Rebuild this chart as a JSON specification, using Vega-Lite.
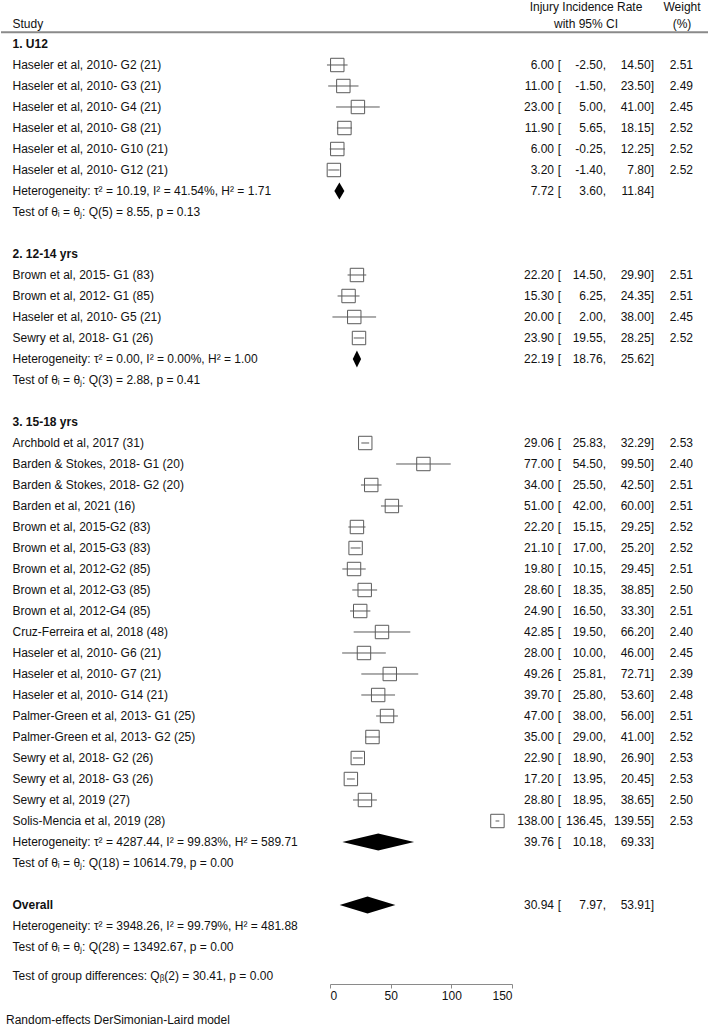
{
  "$schema": "https://vega.github.io/schema/vega-lite/v6.json",
  "padding": 0,
  "spacing": 0,
  "bounds": "flush",
  "config": {
    "view": {"stroke": null},
    "locale": {"number": {"decimal": ".", "thousands": ",", "grouping": [3], "currency": ["$", ""], "minus": "-"}},
    "text": {"font": "Liberation Sans", "fontSize": 12, "color": "#111111"},
    "axis": {"labelFont": "Liberation Sans", "labelFontSize": 12, "labelColor": "#111111", "domainColor": "#8a8a8a", "tickColor": "#8a8a8a", "tickSize": 4, "labelPadding": 2, "grid": false}
  },
  "datasets": {
    "rows": [
      {"row": -1.748, "kind": "hdr", "ci": "Injury Incidence Rate", "w": "Weight"},
      {"row": -0.952, "kind": "hdr", "ci": "with 95% CI", "w": "(%)", "label": "Study"},
      {"row": 0, "kind": "group", "label": "1. U12"},
      {"row": 1, "kind": "study", "label": "Haseler et al, 2010- G2 (21)", "est": 6.00, "lo": -2.50, "hi": 14.50, "wt": 2.51},
      {"row": 2, "kind": "study", "label": "Haseler et al, 2010- G3 (21)", "est": 11.00, "lo": -1.50, "hi": 23.50, "wt": 2.49},
      {"row": 3, "kind": "study", "label": "Haseler et al, 2010- G4 (21)", "est": 23.00, "lo": 5.00, "hi": 41.00, "wt": 2.45},
      {"row": 4, "kind": "study", "label": "Haseler et al, 2010- G8 (21)", "est": 11.90, "lo": 5.65, "hi": 18.15, "wt": 2.52},
      {"row": 5, "kind": "study", "label": "Haseler et al, 2010- G10 (21)", "est": 6.00, "lo": -0.25, "hi": 12.25, "wt": 2.52},
      {"row": 6, "kind": "study", "label": "Haseler et al, 2010- G12 (21)", "est": 3.20, "lo": -1.40, "hi": 7.80, "wt": 2.52},
      {"row": 7, "kind": "het", "label": "Heterogeneity: τ² = 10.19, I² = 41.54%, H² = 1.71", "est": 7.72, "lo": 3.60, "hi": 11.84},
      {"row": 8, "kind": "test", "label": "Test of θᵢ = θⱼ: Q(5) = 8.55, p = 0.13"},
      {"row": 10, "kind": "group", "label": "2. 12-14 yrs"},
      {"row": 11, "kind": "study", "label": "Brown et al, 2015- G1 (83)", "est": 22.20, "lo": 14.50, "hi": 29.90, "wt": 2.51},
      {"row": 12, "kind": "study", "label": "Brown et al, 2012- G1 (85)", "est": 15.30, "lo": 6.25, "hi": 24.35, "wt": 2.51},
      {"row": 13, "kind": "study", "label": "Haseler et al, 2010- G5 (21)", "est": 20.00, "lo": 2.00, "hi": 38.00, "wt": 2.45},
      {"row": 14, "kind": "study", "label": "Sewry et al, 2018- G1 (26)", "est": 23.90, "lo": 19.55, "hi": 28.25, "wt": 2.52},
      {"row": 15, "kind": "het", "label": "Heterogeneity: τ² = 0.00, I² = 0.00%, H² = 1.00", "est": 22.19, "lo": 18.76, "hi": 25.62},
      {"row": 16, "kind": "test", "label": "Test of θᵢ = θⱼ: Q(3) = 2.88, p = 0.41"},
      {"row": 18, "kind": "group", "label": "3. 15-18 yrs"},
      {"row": 19, "kind": "study", "label": "Archbold et al, 2017 (31)", "est": 29.06, "lo": 25.83, "hi": 32.29, "wt": 2.53},
      {"row": 20, "kind": "study", "label": "Barden & Stokes, 2018- G1 (20)", "est": 77.00, "lo": 54.50, "hi": 99.50, "wt": 2.40},
      {"row": 21, "kind": "study", "label": "Barden & Stokes, 2018- G2 (20)", "est": 34.00, "lo": 25.50, "hi": 42.50, "wt": 2.51},
      {"row": 22, "kind": "study", "label": "Barden et al, 2021 (16)", "est": 51.00, "lo": 42.00, "hi": 60.00, "wt": 2.51},
      {"row": 23, "kind": "study", "label": "Brown et al, 2015-G2 (83)", "est": 22.20, "lo": 15.15, "hi": 29.25, "wt": 2.52},
      {"row": 24, "kind": "study", "label": "Brown et al, 2015-G3 (83)", "est": 21.10, "lo": 17.00, "hi": 25.20, "wt": 2.52},
      {"row": 25, "kind": "study", "label": "Brown et al, 2012-G2 (85)", "est": 19.80, "lo": 10.15, "hi": 29.45, "wt": 2.51},
      {"row": 26, "kind": "study", "label": "Brown et al, 2012-G3 (85)", "est": 28.60, "lo": 18.35, "hi": 38.85, "wt": 2.50},
      {"row": 27, "kind": "study", "label": "Brown et al, 2012-G4 (85)", "est": 24.90, "lo": 16.50, "hi": 33.30, "wt": 2.51},
      {"row": 28, "kind": "study", "label": "Cruz-Ferreira et al, 2018 (48)", "est": 42.85, "lo": 19.50, "hi": 66.20, "wt": 2.40},
      {"row": 29, "kind": "study", "label": "Haseler et al, 2010- G6 (21)", "est": 28.00, "lo": 10.00, "hi": 46.00, "wt": 2.45},
      {"row": 30, "kind": "study", "label": "Haseler et al, 2010- G7 (21)", "est": 49.26, "lo": 25.81, "hi": 72.71, "wt": 2.39},
      {"row": 31, "kind": "study", "label": "Haseler et al, 2010- G14 (21)", "est": 39.70, "lo": 25.80, "hi": 53.60, "wt": 2.48},
      {"row": 32, "kind": "study", "label": "Palmer-Green et al, 2013- G1 (25)", "est": 47.00, "lo": 38.00, "hi": 56.00, "wt": 2.51},
      {"row": 33, "kind": "study", "label": "Palmer-Green et al, 2013- G2 (25)", "est": 35.00, "lo": 29.00, "hi": 41.00, "wt": 2.52},
      {"row": 34, "kind": "study", "label": "Sewry et al, 2018- G2 (26)", "est": 22.90, "lo": 18.90, "hi": 26.90, "wt": 2.53},
      {"row": 35, "kind": "study", "label": "Sewry et al, 2018- G3 (26)", "est": 17.20, "lo": 13.95, "hi": 20.45, "wt": 2.53},
      {"row": 36, "kind": "study", "label": "Sewry et al, 2019 (27)", "est": 28.80, "lo": 18.95, "hi": 38.65, "wt": 2.50},
      {"row": 37, "kind": "study", "label": "Solis-Mencia et al, 2019 (28)", "est": 138.00, "lo": 136.45, "hi": 139.55, "wt": 2.53},
      {"row": 38, "kind": "het", "label": "Heterogeneity: τ² = 4287.44, I² = 99.83%, H² = 589.71", "est": 39.76, "lo": 10.18, "hi": 69.33},
      {"row": 39, "kind": "test", "label": "Test of θᵢ = θⱼ: Q(18) = 10614.79, p = 0.00"},
      {"row": 41, "kind": "overall", "label": "Overall", "est": 30.94, "lo": 7.97, "hi": 53.91},
      {"row": 42, "kind": "het", "label": "Heterogeneity: τ² = 3948.26, I² = 99.79%, H² = 481.88"},
      {"row": 43, "kind": "test", "label": "Test of θᵢ = θⱼ: Q(28) = 13492.67, p = 0.00"},
      {"row": 44.4, "kind": "test", "label": "Test of group differences: Qᵦ(2) = 30.41, p = 0.00"},
      {"row": 46.48, "kind": "note", "label": "Random-effects DerSimonian-Laird model"}
    ]
  },
  "hconcat": [
    {
      "width": 329, "height": 984,
      "data": {"name": "rows"},
      "layer": [
        {"data": {"values": [{}]}, "mark": {"type": "rule", "color": "#8a8a8a", "strokeWidth": 2},
         "encoding": {"y": {"datum": -0.557, "type": "quantitative", "scale": {"domain": [-2.095, 44.762], "reverse": true, "nice": false, "zero": false}, "axis": null}}},
        {"transform": [{"filter": "datum.kind === 'study' || datum.kind === 'het' || datum.kind === 'test' || datum.kind === 'hdr'"}, {"filter": "isValid(datum.label)"}],
         "mark": {"type": "text", "align": "left", "baseline": "middle", "dx": 11.5},
         "encoding": {"x": {"value": 0}, "y": {"field": "row", "type": "quantitative", "scale": {"domain": [-2.095, 44.762], "reverse": true, "nice": false, "zero": false}, "axis": null}, "text": {"field": "label"}}},
        {"transform": [{"filter": "datum.kind === 'group' || datum.kind === 'overall'"}],
         "mark": {"type": "text", "align": "left", "baseline": "middle", "dx": 11.5, "fontWeight": "bold"},
         "encoding": {"x": {"value": 0}, "y": {"field": "row", "type": "quantitative", "scale": {"domain": [-2.095, 44.762], "reverse": true, "nice": false, "zero": false}, "axis": null}, "text": {"field": "label"}}},
        {"transform": [{"filter": "datum.kind === 'note'"}],
         "mark": {"type": "text", "align": "left", "baseline": "middle", "dx": 5},
         "encoding": {"x": {"value": 0}, "y": {"field": "row", "type": "quantitative", "scale": {"domain": [-2.095, 44.762], "reverse": true, "nice": false, "zero": false}, "axis": null}, "text": {"field": "label"}}}
      ]
    },
    {
      "width": 182, "height": 984,
      "data": {"name": "rows"},
      "layer": [
        {"data": {"values": [{}]}, "mark": {"type": "rule", "color": "#8a8a8a", "strokeWidth": 2},
         "encoding": {"y": {"datum": -0.557, "type": "quantitative", "scale": {"domain": [-2.095, 44.762], "reverse": true, "nice": false, "zero": false}, "axis": null}}},
        {"transform": [{"filter": "isValid(datum.wt)"}],
         "mark": {"type": "rule", "color": "#5a5a5a", "strokeWidth": 1},
         "encoding": {
           "x": {"field": "lo", "type": "quantitative", "scale": {"domain": [0, 150], "nice": false, "zero": false}, "axis": {"values": [0, 50, 100, 150], "title": null}},
           "x2": {"field": "hi"},
           "y": {"field": "row", "type": "quantitative", "scale": {"domain": [-2.095, 44.762], "reverse": true, "nice": false, "zero": false}, "axis": null}}},
        {"transform": [{"filter": "isValid(datum.wt)"}],
         "mark": {"type": "point", "shape": "square", "filled": false, "size": 180, "color": "#5a5a5a", "strokeWidth": 1, "opacity": 1},
         "encoding": {
           "x": {"field": "est", "type": "quantitative"},
           "y": {"field": "row", "type": "quantitative"}}},
        {"transform": [{"filter": "isValid(datum.est) && !isValid(datum.wt)"}, {"fold": ["lo", "est", "hi"], "as": ["vertex", "xv"]}],
         "mark": {"type": "area", "color": "#000000", "opacity": 1, "yOffset": {"expr": "datum.vertex === 'est' ? -8.5 : 0"}, "y2Offset": {"expr": "datum.vertex === 'est' ? 8.5 : 0"}},
         "encoding": {
           "x": {"field": "xv", "type": "quantitative"},
           "y": {"field": "row", "type": "quantitative", "stack": null},
           "y2": {"field": "row"},
           "detail": {"field": "row"}}}
      ]
    },
    {
      "width": 49, "height": 984,
      "data": {"name": "rows"},
      "transform": [{"filter": "isValid(datum.est)"}],
      "layer": [
        {"data": {"values": [{}]}, "mark": {"type": "rule", "color": "#8a8a8a", "strokeWidth": 2},
         "encoding": {"y": {"datum": -0.557, "type": "quantitative", "scale": {"domain": [-2.095, 44.762], "reverse": true, "nice": false, "zero": false}, "axis": null}}},
        {"mark": {"type": "text", "align": "right", "baseline": "middle", "dx": -7},
         "encoding": {"x": {"value": "width"}, "y": {"field": "row", "type": "quantitative", "scale": {"domain": [-2.095, 44.762], "reverse": true, "nice": false, "zero": false}, "axis": null}, "text": {"field": "est", "format": ".2f"}}},
        {"mark": {"type": "text", "align": "right", "baseline": "middle", "text": "["},
         "encoding": {"x": {"value": "width"}, "y": {"field": "row", "type": "quantitative"}}}
      ]
    },
    {
      "width": 45, "height": 984,
      "data": {"name": "rows"},
      "layer": [
        {"data": {"values": [{}]}, "mark": {"type": "rule", "color": "#8a8a8a", "strokeWidth": 2},
         "encoding": {"y": {"datum": -0.557, "type": "quantitative", "scale": {"domain": [-2.095, 44.762], "reverse": true, "nice": false, "zero": false}, "axis": null}}},
        {"transform": [{"filter": "isValid(datum.est)"}],
         "mark": {"type": "text", "align": "right", "baseline": "middle", "dx": -3.3},
         "encoding": {"x": {"value": "width"}, "y": {"field": "row", "type": "quantitative", "scale": {"domain": [-2.095, 44.762], "reverse": true, "nice": false, "zero": false}, "axis": null}, "text": {"field": "lo", "format": ".2f"}}},
        {"transform": [{"filter": "isValid(datum.est)"}],
         "mark": {"type": "text", "align": "right", "baseline": "middle", "text": ","},
         "encoding": {"x": {"value": "width"}, "y": {"field": "row", "type": "quantitative"}}},
        {"transform": [{"filter": "datum.kind === 'hdr'"}],
         "mark": {"type": "text", "align": "center", "baseline": "middle", "dx": 25},
         "encoding": {"x": {"value": 0}, "y": {"field": "row", "type": "quantitative"}, "text": {"field": "ci"}}}
      ]
    },
    {
      "width": 48, "height": 984,
      "data": {"name": "rows"},
      "transform": [{"filter": "isValid(datum.est)"}],
      "layer": [
        {"data": {"values": [{}]}, "mark": {"type": "rule", "color": "#8a8a8a", "strokeWidth": 2},
         "encoding": {"y": {"datum": -0.557, "type": "quantitative", "scale": {"domain": [-2.095, 44.762], "reverse": true, "nice": false, "zero": false}, "axis": null}}},
        {"mark": {"type": "text", "align": "right", "baseline": "middle", "dx": -3.3},
         "encoding": {"x": {"value": "width"}, "y": {"field": "row", "type": "quantitative", "scale": {"domain": [-2.095, 44.762], "reverse": true, "nice": false, "zero": false}, "axis": null}, "text": {"field": "hi", "format": ".2f"}}},
        {"mark": {"type": "text", "align": "right", "baseline": "middle", "text": "]"},
         "encoding": {"x": {"value": "width"}, "y": {"field": "row", "type": "quantitative"}}}
      ]
    },
    {
      "width": 55, "height": 984,
      "data": {"name": "rows"},
      "layer": [
        {"data": {"values": [{}]}, "mark": {"type": "rule", "color": "#8a8a8a", "strokeWidth": 2},
         "encoding": {"y": {"datum": -0.557, "type": "quantitative", "scale": {"domain": [-2.095, 44.762], "reverse": true, "nice": false, "zero": false}, "axis": null}}},
        {"transform": [{"filter": "isValid(datum.wt)"}],
         "mark": {"type": "text", "align": "right", "baseline": "middle", "dx": -16},
         "encoding": {"x": {"value": "width"}, "y": {"field": "row", "type": "quantitative", "scale": {"domain": [-2.095, 44.762], "reverse": true, "nice": false, "zero": false}, "axis": null}, "text": {"field": "wt", "format": ".2f"}}},
        {"transform": [{"filter": "datum.kind === 'hdr'"}],
         "mark": {"type": "text", "align": "center", "baseline": "middle", "dx": 28},
         "encoding": {"x": {"value": 0}, "y": {"field": "row", "type": "quantitative"}, "text": {"field": "w"}}}
      ]
    }
  ]
}
